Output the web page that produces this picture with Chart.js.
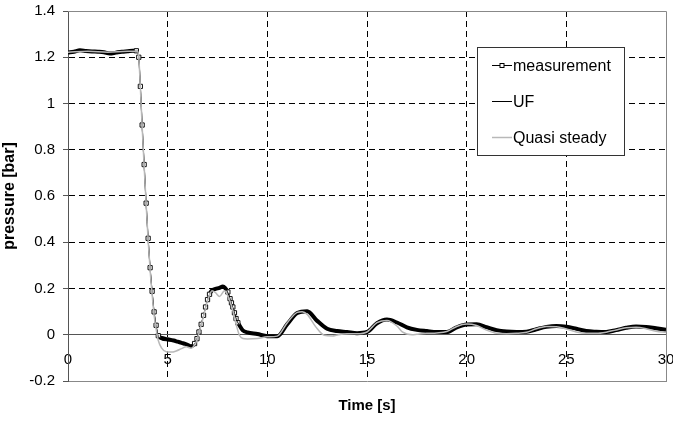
<!DOCTYPE html>
<html>
<head>
<meta charset="utf-8">
<title>pressure vs time</title>
<script src="https://cdn.jsdelivr.net/npm/chart.js@4.4.1/dist/chart.umd.min.js"></script>
<style>
  html, body { margin: 0; padding: 0; background: #fff; }
  #wrap { width: 673px; height: 422px; }
</style>
</head>
<body>
<div id="wrap"><canvas id="chart" width="673" height="422"></canvas></div>
<script>
// Axis ticks
const xTicks = [0, 5, 10, 15, 20, 25, 30];
const yTicks = [-0.2, 0, 0.2, 0.4, 0.6, 0.8, 1, 1.2, 1.4];

const measTime = [
    0, 0.3, 0.6, 0.9, 1.2, 1.5, 1.8, 2.1, 2.4, 2.7, 3.0, 3.25, 3.43,
    3.55, 3.63, 3.72, 3.82, 3.92, 4.02, 4.12, 4.22, 4.32, 4.42, 4.53,
    4.7, 4.9, 5.1, 5.3, 5.5, 5.7, 5.9, 6.05, 6.18,
    6.35, 6.47, 6.57, 6.68, 6.8, 6.9, 7.0, 7.1, 7.22,
    7.4, 7.6, 7.77, 7.9,
    8.02, 8.13, 8.2, 8.27, 8.35, 8.43, 8.52, 8.6, 8.77,
    9.0, 9.5, 10, 10.5, 11, 11.5, 12, 12.5, 13, 13.5,
    14, 14.5, 15, 15.5, 16, 16.5, 17, 17.5, 18, 18.5,
    19, 19.5, 20, 20.5, 21, 21.5, 22, 22.5, 23, 23.5,
    24, 24.5, 25, 25.5, 26, 26.5, 27, 27.5, 28, 28.5,
    29, 29.5, 30
];
const measPressure = [
    1.22, 1.224, 1.23, 1.227, 1.225, 1.224, 1.222, 1.216, 1.22, 1.224, 1.226, 1.228, 1.228,
    1.2, 1.074, 0.907, 0.736, 0.569, 0.417, 0.29, 0.188, 0.099, 0.041, -0.004,
    -0.014, -0.018, -0.021, -0.025, -0.03, -0.035, -0.04, -0.046, -0.05,
    -0.038, -0.017, 0.012, 0.045, 0.084, 0.12, 0.152, 0.175, 0.192,
    0.198, 0.203, 0.209, 0.2,
    0.185, 0.156, 0.138, 0.12, 0.095, 0.07, 0.052, 0.041, 0.019,
    0.01, 0.003, -0.006, -0.007, 0.046, 0.094, 0.102, 0.06, 0.026, 0.016,
    0.012, 0.007, 0.012, 0.05, 0.066, 0.053, 0.032, 0.021, 0.016, 0.012,
    0.012, 0.032, 0.044, 0.045, 0.033, 0.02, 0.014, 0.012, 0.013, 0.024,
    0.034, 0.038, 0.035, 0.026, 0.016, 0.013, 0.012, 0.02, 0.03, 0.036,
    0.034, 0.028, 0.022
];

// model curves (UF and quasi steady) share one time axis
const modelTime = [
    0, 1, 2, 3, 3.5,
    3.55, 3.63, 3.72, 3.82, 3.92, 4.02, 4.12, 4.22, 4.32, 4.42, 4.53,
    4.7, 4.93, 5.2, 5.43, 5.7, 5.93, 6.18,
    6.35, 6.47, 6.57, 6.68, 6.8, 6.9, 7.0, 7.1, 7.22,
    7.4, 7.6, 7.85, 8.0, 8.15, 8.27, 8.45, 8.6, 8.77,
    9.0, 9.5, 10, 10.5, 11, 11.5, 11.75, 12, 12.43, 12.85,
    13.27, 13.5, 14, 14.5, 15, 15.5, 16, 16.5, 16.77, 17.27,
    17.5, 18, 18.5, 19, 19.5, 20, 20.5, 21, 21.5, 22,
    22.5, 23, 23.5, 24, 24.5, 25, 25.5, 26, 26.5, 27,
    27.5, 28, 28.5, 29, 29.5, 30
];
const ufPressure = [
    1.222, 1.226, 1.222, 1.226, 1.226,
    1.2, 1.072, 0.905, 0.735, 0.568, 0.415, 0.287, 0.184, 0.095, 0.036, -0.008,
    -0.022, -0.026, -0.028, -0.031, -0.036, -0.042, -0.05,
    -0.04, -0.018, 0.011, 0.044, 0.083, 0.119, 0.151, 0.174, 0.19,
    0.196, 0.2, 0.205, 0.186, 0.15, 0.118, 0.066, 0.04, 0.018,
    0.01, 0.003, -0.006, -0.007, 0.046, 0.093, 0.101, 0.1, 0.07, 0.03,
    0.018, 0.016, 0.012, 0.007, 0.012, 0.049, 0.065, 0.052, 0.04, 0.024,
    0.021, 0.016, 0.012, 0.012, 0.032, 0.044, 0.044, 0.033, 0.02, 0.014,
    0.012, 0.013, 0.024, 0.034, 0.037, 0.034, 0.026, 0.016, 0.013, 0.012,
    0.02, 0.029, 0.035, 0.033, 0.027, 0.021
];
const qsPressure = [
    1.222, 1.226, 1.222, 1.226, 1.226,
    1.2, 1.07, 0.9, 0.73, 0.565, 0.41, 0.28, 0.175, 0.085, 0.025, -0.025,
    -0.058, -0.074, -0.075, -0.07, -0.06, -0.052, -0.058,
    -0.045, -0.022, 0.008, 0.042, 0.08, 0.116, 0.148, 0.172, 0.19,
    0.182, 0.165, 0.19, 0.172, 0.14, 0.105, 0.04, -0.002, -0.016,
    -0.018, -0.016, -0.009, -0.006, 0.052, 0.097, 0.1, 0.088, 0.034, -0.002,
    -0.005, -0.001, 0.004, 0.004, 0.012, 0.052, 0.062, 0.038, 0.012, 0.0,
    0.002, 0.006, 0.008, 0.014, 0.036, 0.046, 0.04, 0.02, 0.006, 0.004,
    0.006, 0.011, 0.026, 0.036, 0.035, 0.025, 0.012, 0.006, 0.006, 0.011,
    0.021, 0.03, 0.032, 0.026, 0.015, 0.01
];

const FONT = '"Liberation Sans", Arial, sans-serif';
Chart.defaults.font.family = FONT;
Chart.defaults.color = '#000';

function toPoints(xs, ys) {
    return xs.map((x, i) => ({ x: x, y: ys[i] }));
}

// steep parts show the single markers, flat parts the dense band
const STEEP = 0.15;
function slopeAt(i) {
    const a = i > 0 ? Math.abs((measPressure[i] - measPressure[i - 1]) / (measTime[i] - measTime[i - 1])) : 0;
    const b = i < measTime.length - 1 ? Math.abs((measPressure[i + 1] - measPressure[i]) / (measTime[i + 1] - measTime[i])) : 0;
    return Math.max(a, b);
}

// scales should not add their own label padding round the plot
function noPad(s) {
    s.paddingLeft = 0;
    s.paddingRight = 0;
    s.paddingTop = 0;
    s.paddingBottom = 0;
}

// grey frame on top and right of the plot
const plotFrame = {
    id: 'plotFrame',
    beforeDatasetsDraw(chart) {
        const { ctx, chartArea: a } = chart;
        ctx.save();
        ctx.strokeStyle = '#888';
        ctx.lineWidth = 1;
        ctx.beginPath();
        ctx.moveTo(a.left, a.top + 0.5);
        ctx.lineTo(a.right + 0.5, a.top + 0.5);
        ctx.lineTo(a.right + 0.5, a.bottom);
        ctx.stroke();
        ctx.restore();
    }
};

// boxed legend inside the plot, like the original
const boxLegend = {
    id: 'boxLegend',
    afterDraw(chart) {
        const ctx = chart.ctx;
        const box = { x: 477.5, y: 47.5, w: 147, h: 108 };
        const rows = [65.5, 101.5, 137.5];
        ctx.save();
        ctx.fillStyle = '#fff';
        ctx.fillRect(box.x, box.y, box.w, box.h);
        ctx.strokeStyle = '#333';
        ctx.lineWidth = 1;
        ctx.strokeRect(box.x, box.y, box.w, box.h);
        ctx.font = '16px ' + FONT;
        ctx.textBaseline = 'middle';
        chart.data.datasets.forEach((ds, i) => {
            const y = rows[i];
            ctx.strokeStyle = ds.borderColor;
            ctx.lineWidth = ds.legendWidth;
            ctx.beginPath();
            ctx.moveTo(492, y);
            ctx.lineTo(512, y);
            ctx.stroke();
            if (ds.legendMarker) {
                ctx.fillStyle = '#fff';
                ctx.fillRect(500, y - 2, 4, 4);
                ctx.lineWidth = 1;
                ctx.strokeStyle = '#000';
                ctx.strokeRect(500, y - 2, 4, 4);
            }
            ctx.fillStyle = '#000';
            ctx.fillText(ds.label, 513, y + 1);
        });
        ctx.restore();
    }
};

const edge = (vals) => (c) => (c.tick && vals.includes(c.tick.value)) ? 'rgba(0,0,0,0)' : '#000';

new Chart(document.getElementById('chart'), {
    type: 'line',
    data: {
        datasets: [
            {
                label: 'measurement',
                data: toPoints(measTime, measPressure),
                borderColor: '#000',
                borderWidth: 1,
                legendWidth: 1,
                legendMarker: true,
                cubicInterpolationMode: 'monotone',
                pointStyle: 'rect',
                pointRadius: c => slopeAt(c.dataIndex) > STEEP ? 3 : 0,
                pointBorderWidth: 1,
                pointBorderColor: '#111',
                pointBackgroundColor: '#fff',
                segment: {
                    borderWidth: c => {
                        const s = Math.abs((c.p1.parsed.y - c.p0.parsed.y) / (c.p1.parsed.x - c.p0.parsed.x));
                        return s > STEEP ? 1 : 4;
                    }
                },
                order: 2
            },
            {
                label: 'UF',
                data: toPoints(modelTime, ufPressure),
                borderColor: '#000',
                borderWidth: 1,
                legendWidth: 1,
                cubicInterpolationMode: 'monotone',
                pointRadius: 0,
                order: 1
            },
            {
                label: 'Quasi steady',
                data: toPoints(modelTime, qsPressure),
                borderColor: '#b8b8b8',
                borderWidth: 1.5,
                legendWidth: 1.5,
                cubicInterpolationMode: 'monotone',
                pointRadius: 0,
                order: 0
            }
        ]
    },
    options: {
        responsive: false,
        animation: false,
        devicePixelRatio: 1,
        layout: { padding: { top: 11, right: 7, left: 0, bottom: 0 } },
        plugins: {
            legend: { display: false },
            tooltip: { enabled: false }
        },
        scales: {
            x: {
                type: 'linear',
                min: 0,
                max: 30,
                position: { y: 0 },
                afterBuildTicks: s => { s.ticks = xTicks.map(v => ({ value: v })); },
                ticks: { font: { size: 15 }, color: '#000', padding: 16, maxRotation: 0 },
                grid: { color: edge([0, 30]), lineWidth: 1, drawTicks: false },
                border: { display: true, color: '#555', width: 1, dash: [6, 4] },
                afterFit: noPad
            },
            xTitle: {
                type: 'linear',
                axis: 'x',
                min: 0,
                max: 30,
                position: 'bottom',
                ticks: { display: false },
                grid: { display: false },
                border: { display: true, color: '#888', width: 1 },
                title: {
                    display: true,
                    text: 'Time [s]',
                    font: { size: 15, weight: 'bold' },
                    padding: { top: 0, bottom: 7 }
                },
                afterFit: s => { noPad(s); s.height = 41; }
            },
            y: {
                type: 'linear',
                min: -0.2,
                max: 1.4,
                position: 'left',
                afterBuildTicks: s => { s.ticks = yTicks.map(v => ({ value: v })); },
                ticks: {
                    font: { size: 15 },
                    color: '#000',
                    padding: 8,
                    callback: v => String(+v.toFixed(1))
                },
                grid: {
                    color: edge([-0.2, 0, 1.4]),
                    tickColor: '#555',
                    tickLength: 5,
                    tickBorderDash: [],
                    lineWidth: 1
                },
                border: { display: true, color: '#555', width: 1, dash: [6, 4] },
                title: {
                    display: true,
                    text: 'pressure [bar]',
                    font: { size: 16, weight: 'bold' },
                    padding: { top: 0, bottom: 0 }
                },
                afterFit: s => { noPad(s); s.width = 68; }
            }
        }
    },
    plugins: [plotFrame, boxLegend]
});
</script>
</body>
</html>
